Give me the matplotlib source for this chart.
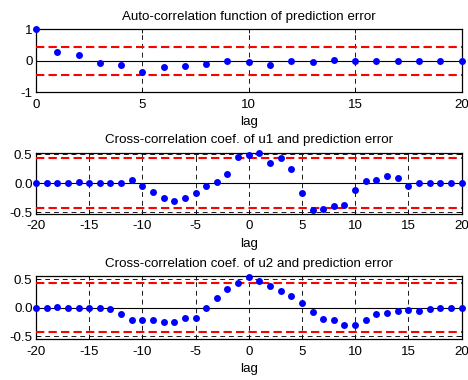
import matplotlib
matplotlib.use("Agg")
import matplotlib.pyplot as plt
import numpy as np

# ---- data ----
lags_auto = list(range(0, 21))
auto_corr = [1.0, 0.28, 0.19, -0.07, -0.12, -0.36, -0.20, -0.18, -0.09, 0.0,
             -0.04, -0.12, 0.0, -0.04, 0.04, -0.01, -0.01, -0.01, -0.01, -0.01, -0.01]
conf_auto = 0.44

lags_cross = list(range(-20, 21))
cross_u1 = [0.0, 0.0, 0.0, 0.01, 0.02, 0.01, 0.0, 0.0, 0.0, 0.05,
            -0.05, -0.15, -0.25, -0.30, -0.26, -0.16, -0.05, 0.02, 0.16, 0.45,
            0.48, 0.52, 0.35, 0.43, 0.24, -0.17, -0.45, -0.44, -0.39, -0.38,
            -0.12, 0.04, 0.05, 0.12, 0.10, -0.04, 0.0, 0.0, 0.0, 0.01, 0.01]
conf_u1 = 0.43
cross_u2 = [0.0, 0.0, 0.01, 0.0, 0.0, 0.0, 0.0, -0.02, -0.11, -0.21,
            -0.22, -0.22, -0.25, -0.25, -0.17, -0.17, 0.0, 0.17, 0.32, 0.44,
            0.54, 0.47, 0.38, 0.29, 0.20, 0.09, -0.08, -0.19, -0.22, -0.30,
            -0.30, -0.21, -0.11, -0.09, -0.05, -0.03, -0.05, -0.02, -0.01, 0.0, 0.0]
conf_u2 = 0.43

titles = ["Auto-correlation function of prediction error",
          "Cross-correlation coef. of u1 and prediction error",
          "Cross-correlation coef. of u2 and prediction error"]
xlabel = "lag"

plt.rcParams['font.family'] = ['Liberation Sans', 'DejaVu Sans']
plt.rcParams['font.size'] = 9.6
plt.rcParams['axes.unicode_minus'] = False

FS = 9.6

fig = plt.figure(figsize=(4.68, 3.8), dpi=100)
W, H = 468, 380

def add_ax(left, top, right, bottom):
    return fig.add_axes([left / W, 1 - bottom / H, (right - left) / W, (bottom - top) / H])

ax1 = add_ax(36, 29.3, 461.5, 92.3)
ax2 = add_ax(36, 152.7, 461.5, 214)
ax3 = add_ax(36, 276.3, 461.5, 339.3)

def style(ax, x, y, conf, xlim, ylim, xticks, yticks, title):
    ax.set_xlim(*xlim)
    ax.set_ylim(*ylim)
    ax.set_xticks(xticks)
    ax.set_yticks(yticks)
    ax.grid(True, color='0.1', linestyle=(0, (5, 4)), linewidth=0.7)
    ax.set_axisbelow(True)
    ax.axhline(0, color='black', linewidth=0.8, zorder=2)
    ax.axhline(conf, color='red', linestyle=(0, (4, 2)), linewidth=1.5, zorder=3)
    ax.axhline(-conf, color='red', linestyle=(0, (4, 2)), linewidth=1.5, zorder=3)
    ax.plot(x, y, 'o', color=(0, 0, 1), markersize=5, markeredgewidth=0,
            zorder=4, clip_on=False)
    ax.tick_params(axis='x', direction='in', top=True, length=3, width=0.6,
                   labelsize=FS, pad=4.5, colors='black')
    ax.tick_params(axis='y', direction='in', right=True, length=3, width=0.6,
                   labelsize=FS, pad=2.5, colors='black')
    for s in ax.spines.values():
        s.set_linewidth(0.9)
    ax.set_title(title, fontsize=FS, pad=7)
    ax.set_xlabel(xlabel, fontsize=FS, labelpad=4)

style(ax1, lags_auto, auto_corr, conf_auto, (0, 20), (-1, 1),
      [0, 5, 10, 15, 20], [-1, 0, 1], titles[0])
style(ax2, lags_cross, cross_u1, conf_u1, (-20, 20), (-0.527, 0.527),
      [-20, -15, -10, -5, 0, 5, 10, 15, 20], [-0.5, 0, 0.5], titles[1])
style(ax3, lags_cross, cross_u2, conf_u2, (-20, 20), (-0.55, 0.55),
      [-20, -15, -10, -5, 0, 5, 10, 15, 20], [-0.5, 0, 0.5], titles[2])

fig.savefig("out.png", dpi=100)
